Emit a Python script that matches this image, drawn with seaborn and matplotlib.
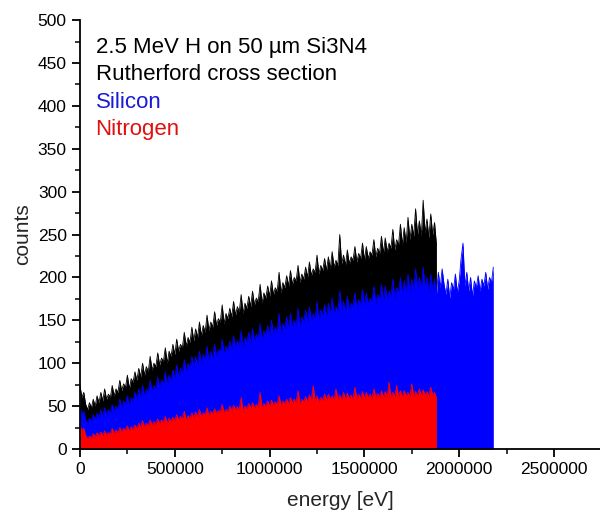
import numpy as np
import matplotlib.pyplot as plt
import matplotlib.ticker as mticker
import seaborn as sns

# channel width of the spectrum (eV); channel i sits at i * BIN_EV
BIN_EV = 10000

total_counts = [
    74, 60, 66, 52, 46, 54, 48, 58, 50, 62,
    54, 66, 56, 70, 58, 64, 60, 74, 62, 70,
    66, 80, 68, 76, 72, 86, 70, 82, 78, 90,
    80, 94, 84, 100, 86, 96, 90, 108, 92, 100,
    96, 112, 98, 106, 102, 118, 100, 114, 108, 122,
    110, 128, 114, 122, 118, 136, 120, 130, 124, 142,
    126, 140, 130, 148, 132, 144, 136, 156, 138, 148,
    142, 160, 144, 152, 148, 168, 146, 158, 152, 164,
    154, 172, 156, 166, 160, 180, 158, 170, 164, 178,
    166, 184, 168, 176, 172, 192, 170, 182, 176, 190,
    178, 196, 180, 188, 184, 206, 182, 194, 188, 202,
    190, 208, 192, 200, 196, 214, 194, 204, 198, 212,
    200, 218, 202, 210, 206, 226, 204, 214, 208, 222,
    208, 224, 210, 230, 212, 220, 214, 250, 216, 226,
    214, 232, 216, 224, 220, 236, 218, 228, 222, 240,
    220, 236, 222, 230, 226, 244, 224, 234, 228, 248,
    228, 246, 230, 240, 234, 256, 232, 244, 238, 262,
    238, 258, 240, 270, 244, 262, 248, 280, 250, 266,
    248, 290, 252, 268, 246, 274, 250, 264, 238,
]

silicon_counts = [
    50, 40, 44, 34, 30, 36, 32, 40, 34, 42,
    36, 46, 38, 48, 40, 46, 42, 52, 44, 50,
    46, 58, 48, 56, 52, 62, 50, 60, 56, 66,
    58, 70, 60, 74, 62, 70, 66, 80, 68, 74,
    70, 84, 72, 80, 76, 90, 74, 86, 80, 92,
    82, 98, 84, 94, 88, 104, 90, 100, 94, 108,
    96, 108, 98, 114, 100, 110, 104, 120, 102, 114,
    106, 122, 108, 116, 112, 128, 110, 120, 114, 126,
    116, 132, 118, 126, 120, 138, 118, 130, 124, 136,
    124, 140, 126, 134, 128, 146, 126, 138, 132, 144,
    132, 150, 134, 142, 136, 158, 134, 146, 140, 154,
    140, 158, 142, 150, 144, 164, 142, 154, 148, 162,
    148, 166, 150, 158, 152, 172, 150, 162, 156, 168,
    154, 170, 156, 176, 158, 166, 160, 184, 162, 172,
    160, 178, 162, 170, 166, 182, 164, 174, 168, 186,
    166, 182, 168, 176, 172, 190, 170, 180, 174, 192,
    172, 190, 174, 184, 178, 198, 176, 188, 182, 200,
    180, 196, 182, 204, 184, 198, 186, 210, 188, 200,
    186, 212, 188, 200, 184, 204, 186, 198, 180, 206,
    188, 210, 192, 180, 198, 176, 194, 186, 204, 182,
    196, 222, 240, 190, 206, 184, 200, 178, 196, 188,
    202, 184, 198, 190, 206, 186, 200, 194, 212,
]

nitrogen_counts = [
    27, 22, 24, 16, 12, 15, 13, 18, 14, 19,
    15, 20, 16, 21, 17, 19, 18, 24, 18, 22,
    19, 25, 20, 24, 22, 27, 21, 26, 23, 28,
    24, 30, 25, 33, 26, 30, 27, 34, 28, 32,
    29, 35, 30, 34, 31, 38, 30, 36, 32, 37,
    33, 40, 34, 38, 35, 44, 34, 39, 36, 42,
    37, 43, 38, 46, 38, 42, 40, 48, 39, 44,
    41, 47, 42, 45, 43, 52, 42, 46, 44, 50,
    45, 51, 46, 49, 46, 60, 45, 50, 47, 53,
    48, 54, 48, 52, 49, 66, 48, 53, 50, 56,
    50, 57, 51, 55, 52, 62, 51, 56, 53, 58,
    53, 60, 54, 58, 54, 68, 53, 58, 55, 61,
    55, 63, 56, 74, 56, 62, 55, 60, 57, 64,
    57, 64, 58, 62, 57, 70, 58, 63, 58, 66,
    58, 65, 59, 63, 58, 72, 59, 64, 59, 67,
    59, 66, 60, 64, 59, 70, 60, 65, 60, 68,
    60, 67, 61, 78, 60, 66, 61, 74, 61, 68,
    61, 68, 62, 66, 61, 76, 62, 67, 62, 70,
    62, 69, 63, 67, 62, 72, 63, 66, 60,
]

legend_lines = ["2.5 MeV H on 50 µm Si3N4", "Rutherford cross section", "Silicon", "Nitrogen"]

sns.set_theme(style="ticks")
plt.rcParams["font.family"] = ["Liberation Sans", "DejaVu Sans"]

fig = plt.figure(figsize=(6.0, 5.18), dpi=100)
ax = fig.add_axes([0.1333, 0.1332, 0.869, 0.828])

series = [
    (total_counts, "black"),
    (silicon_counts, "#0000ff"),
    (nitrogen_counts, "#ff0000"),
]
for counts, color in series:
    energy = np.arange(len(counts)) * BIN_EV
    ax.fill_between(energy, counts, 0, color=color, linewidth=0)
    sns.lineplot(x=energy, y=counts, color=color, linewidth=0.6, ax=ax)

ax.set_xlim(0, 2750000)
ax.set_ylim(0, 500)
ax.xaxis.set_major_locator(mticker.MultipleLocator(500000))
ax.xaxis.set_minor_locator(mticker.MultipleLocator(250000))
ax.xaxis.set_major_formatter(mticker.FuncFormatter(lambda v, _: f"{v:.0f}"))
ax.yaxis.set_major_locator(mticker.MultipleLocator(50))
ax.yaxis.set_minor_locator(mticker.MultipleLocator(25))
ax.tick_params(which="major", direction="out", length=6, width=1.3, labelsize=12.5, colors="black")
ax.tick_params(which="minor", direction="out", length=3.5, width=1.3)
for side in ["top", "right"]:
    ax.spines[side].set_visible(False)
for side in ["left", "bottom"]:
    ax.spines[side].set_linewidth(1.3)
    ax.spines[side].set_color("black")

ax.set_xlabel("energy [eV]", fontsize=15, labelpad=10)
ax.set_ylabel("counts", fontsize=15, labelpad=4)

colors = ["black", "black", "#1a1ad6", "#e01010"]
for k, (txt, c) in enumerate(zip(legend_lines, colors)):
    ax.text(0.03, 0.935 - k * 0.063, txt, transform=ax.transAxes, fontsize=16,
            color=c, va="center", ha="left")

plt.savefig("out.png", dpi=100)
